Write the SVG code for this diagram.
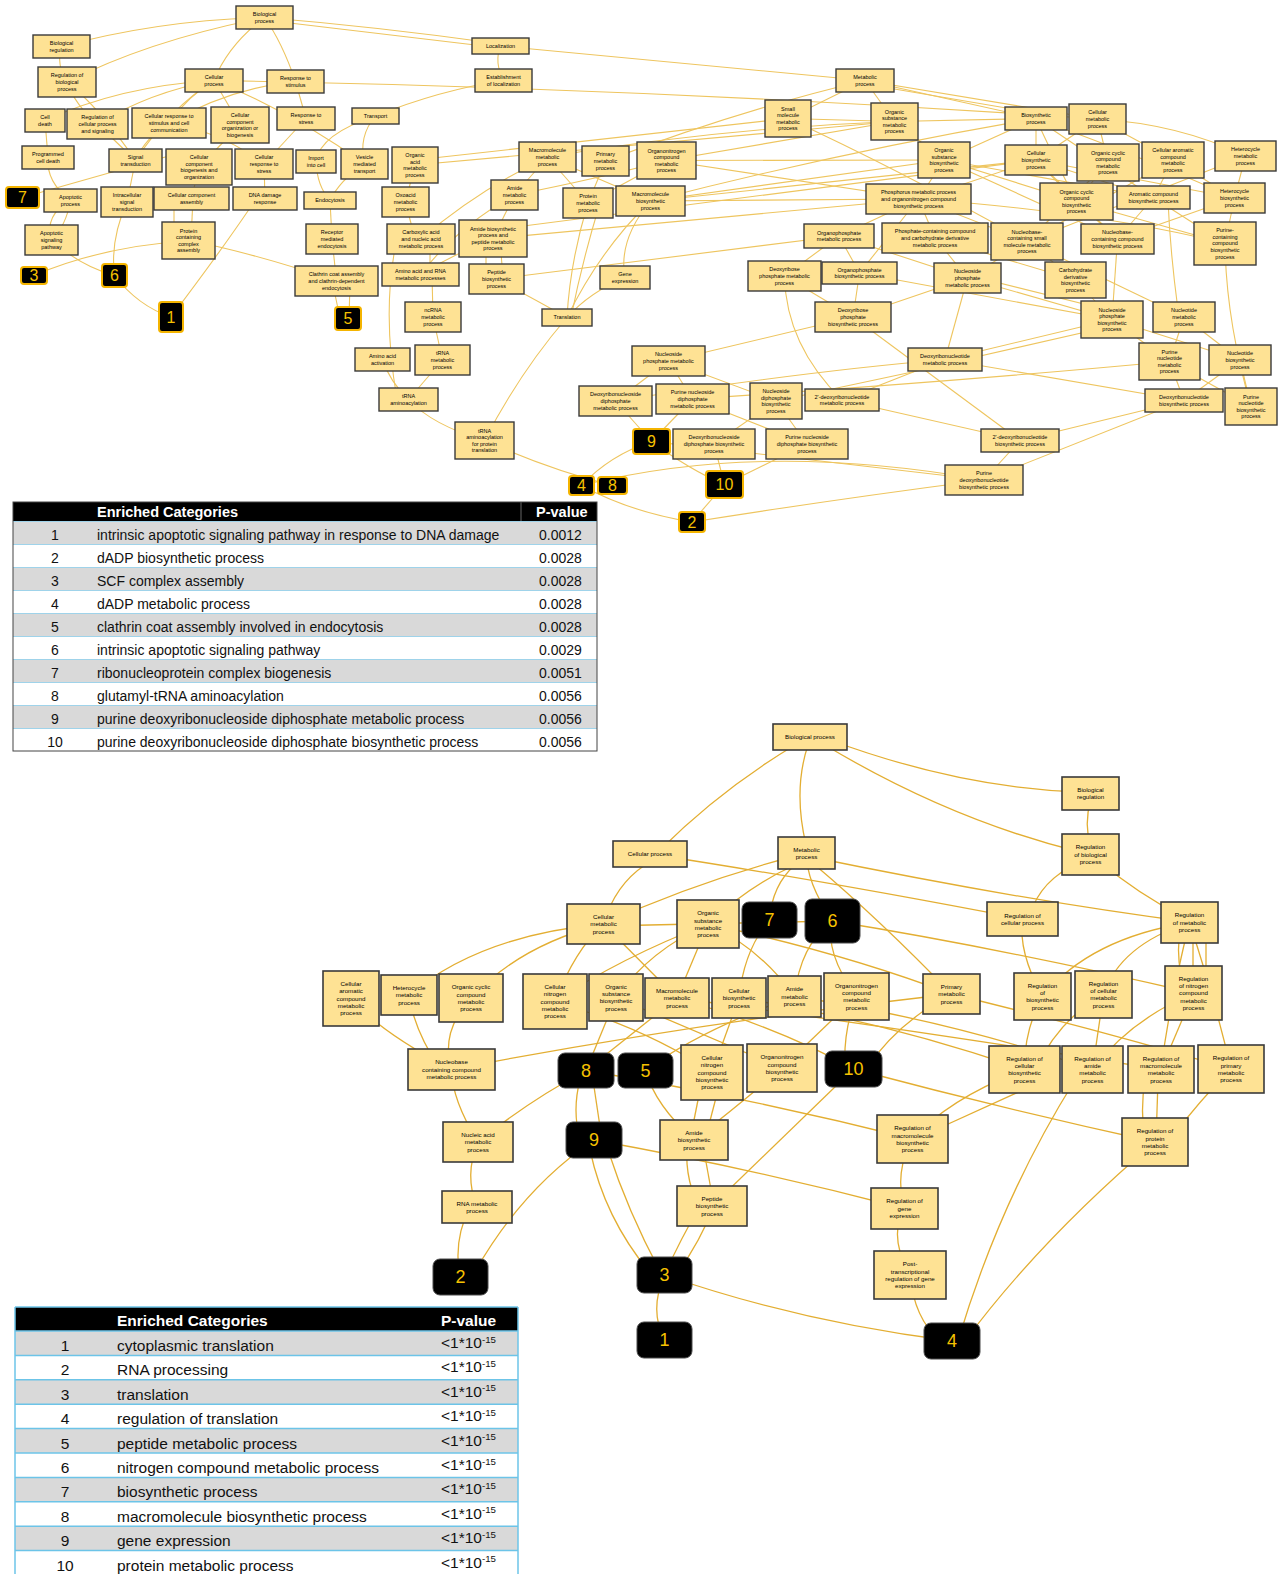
<svg xmlns="http://www.w3.org/2000/svg" width="1282" height="1574" viewBox="0 0 1282 1574">
<style>
.tn{fill:#fee294;stroke:#3a3a3a;stroke-width:1.4}
.bn{fill:#fee294;stroke:#3a3a3a;stroke-width:1.6}
.tt{font-family:"Liberation Sans",Arial,sans-serif;font-size:5.5px;fill:#000;text-anchor:middle}
.bt{font-family:"Liberation Sans",Arial,sans-serif;font-size:6.2px;fill:#000;text-anchor:middle}
.tb{fill:#000;stroke:#f4b400;stroke-width:2}
.bb{fill:#000;stroke:#4a4a4a;stroke-width:1}
.tbt{font-family:"Liberation Sans",Arial,sans-serif;font-size:16px;fill:#f6c200;text-anchor:middle}
.bbt{font-family:"Liberation Sans",Arial,sans-serif;font-size:18px;fill:#f6c200;text-anchor:middle}
.te{fill:none;stroke:#eec55f;stroke-width:1.1}
.be{fill:none;stroke:#e3ae32;stroke-width:1.3}
.tx{font-family:"Liberation Sans",Arial,sans-serif;fill:#111}
.th{font-family:"Liberation Sans",Arial,sans-serif;fill:#fff;font-weight:bold}
.sep1{stroke:#9fd3ea;stroke-width:1}
.sep2{stroke:#6cc4e8;stroke-width:1.5}
</style>
<rect width="1282" height="1574" fill="#fff"/>

<g id="top-connectors">
<path class="te" d="M264.5,17.5 Q160,20 61.5,46.5"/>
<path class="te" d="M264.5,17.5 Q150,40 67,82"/>
<path class="te" d="M61.5,46.5 Q56,65 67,82"/>
<path class="te" d="M264.5,17.5 Q228,45 214,80.5"/>
<path class="te" d="M264.5,17.5 Q282,42 295.5,81.5"/>
<path class="te" d="M264.5,17.5 Q380,27 500.5,44"/>
<path class="te" d="M264.5,20 Q385,34 500.5,48"/>
<path class="te" d="M500.5,46 L865,80.5"/>
<path class="te" d="M500.5,46 Q494,62 503.5,80.5"/>
<path class="te" d="M503.5,80.5 Q440,90 375.5,116"/>
<path class="te" d="M214,80.5 Q650,88 1097.5,119"/>
<path class="te" d="M67,82 Q75,105 97.5,124"/>
<path class="te" d="M67,82 Q100,108 135.5,160.5"/>
<path class="te" d="M214,80.5 Q150,92 97.5,124"/>
<path class="te" d="M214,80.5 Q120,86 45,120.5"/>
<path class="te" d="M214,80.5 Q188,96 169,123"/>
<path class="te" d="M214,80.5 L240,125"/>
<path class="te" d="M214,80.5 Q170,108 135.5,160.5"/>
<path class="te" d="M295.5,81.5 Q230,88 169,123"/>
<path class="te" d="M295.5,81.5 L306,118.5"/>
<path class="te" d="M214,80.5 Q292,112 364.5,164"/>
<path class="te" d="M97.5,124 L135.5,160.5"/>
<path class="te" d="M169,123 Q145,138 135.5,160.5"/>
<path class="te" d="M240,125 L199,167"/>
<path class="te" d="M169,123 Q222,132 264,164"/>
<path class="te" d="M306,118.5 L264,164"/>
<path class="te" d="M45,120.5 L48,157.5"/>
<path class="te" d="M48,157.5 Q46,182 70.5,200.5"/>
<path class="te" d="M135.5,160.5 L127,202"/>
<path class="te" d="M70.5,200.5 Q44,215 51.5,240"/>
<path class="te" d="M70.5,200.5 Q66,226 51.5,240"/>
<path class="te" d="M199,167 L191.5,198.5"/>
<path class="te" d="M264,164 L265,198.5"/>
<path class="te" d="M174,198 L174,240"/>
<path class="te" d="M193,198 L191,240"/>
<path class="te" d="M375.5,116 Q358,136 364.5,164"/>
<path class="te" d="M375.5,116 Q320,134 316,161.5"/>
<path class="te" d="M316,161.5 Q317,186 330,200.5"/>
<path class="te" d="M364.5,164 Q340,180 330,200.5"/>
<path class="te" d="M330,200.5 L332,239"/>
<path class="te" d="M332,239 L336.5,281"/>
<path class="te" d="M188.5,240.5 Q250,252 336.5,281"/>
<path class="te" d="M333,285 L340,318"/>
<path class="te" d="M350,285 L349,318"/>
<path class="te" d="M250,208 Q218,255 171,317"/>
<path class="te" d="M51.5,240 Q80,266 114.5,275.5"/>
<path class="te" d="M127,202 Q110,240 114.5,275.5"/>
<path class="te" d="M114.5,275.5 Q138,306 171,317"/>
<path class="te" d="M188.5,240.5 Q100,247 34,275.5"/>
<path class="te" d="M190,150 L22.5,197.5"/>
<path class="te" d="M415,165 L405.5,202"/>
<path class="te" d="M405.5,202 L415,239"/>
<path class="te" d="M430,239 L430,274.5"/>
<path class="te" d="M432,274.5 L433,317"/>
<path class="te" d="M433,317 L442.5,360"/>
<path class="te" d="M442.5,360 L408.5,399.5"/>
<path class="te" d="M382.5,359.5 Q390,382 408.5,399.5"/>
<path class="te" d="M394,254 Q383,320 397,399"/>
<path class="te" d="M408.5,399.5 Q432,425 484.5,440.5"/>
<path class="te" d="M567,317.5 Q520,372 484.5,440.5"/>
<path class="te" d="M484.5,440.5 Q550,470 612.5,485.5"/>
<path class="te" d="M496.5,279 Q532,298 567,317.5"/>
<path class="te" d="M625,277.5 Q590,292 567,317.5"/>
<path class="te" d="M588,203 Q570,262 567,317.5"/>
<path class="te" d="M600,203 Q582,262 571,317.5"/>
<path class="te" d="M650.5,201 Q600,250 567,317.5"/>
<path class="te" d="M650.5,201 Q618,240 625,277.5"/>
<path class="te" d="M486,238.5 L486,279"/>
<path class="te" d="M500,238.5 L503,279"/>
<path class="te" d="M514.5,195 L493,238.5"/>
<path class="te" d="M547.5,157 L514.5,195"/>
<path class="te" d="M547.5,157 L588,203"/>
<path class="te" d="M605.5,161 L588,203"/>
<path class="te" d="M666.5,160.5 L588,203"/>
<path class="te" d="M666.5,160.5 Q600,178 514.5,195"/>
<path class="te" d="M547.5,157 L650.5,201"/>
<path class="te" d="M421,239 Q478,190 547.5,157"/>
<path class="te" d="M420.5,274.5 Q458,226 514.5,195"/>
<path class="te" d="M420.5,274.5 Q452,255 493,238.5"/>
<path class="te" d="M496.5,279 L839,236"/>
<path class="te" d="M415,160 L788,118.5"/>
<path class="te" d="M415,165 L894.5,121.5"/>
<path class="te" d="M865,80.5 L788,118.5"/>
<path class="te" d="M865,80.5 L894.5,121.5"/>
<path class="te" d="M865,80.5 L1036,118.5"/>
<path class="te" d="M865,80.5 L1097.5,119"/>
<path class="te" d="M865,84 L1036,113"/>
<path class="te" d="M865,80.5 Q740,110 605.5,161"/>
<path class="te" d="M894.5,121.5 Q720,128 547.5,157"/>
<path class="te" d="M894.5,121.5 L666.5,160.5"/>
<path class="te" d="M894.5,121.5 L944,160"/>
<path class="te" d="M894.5,121.5 L1036,118.5"/>
<path class="te" d="M788,118.5 Q900,170 1027,241.5"/>
<path class="te" d="M788,118.5 L894.5,121.5"/>
<path class="te" d="M666.5,160.5 L944,160"/>
<path class="te" d="M666.5,160.5 L918.5,199"/>
<path class="te" d="M650.5,201 L1036,160"/>
<path class="te" d="M650.5,201 Q850,150 1036,118.5"/>
<path class="te" d="M650.5,201 L944,160"/>
<path class="te" d="M650.5,201 L918.5,199"/>
<path class="te" d="M493,238.5 L918.5,199"/>
<path class="te" d="M493,230 L1036,160"/>
<path class="te" d="M1036,118.5 L1036,160"/>
<path class="te" d="M1036,118.5 L944,160"/>
<path class="te" d="M1036,118.5 Q1050,150 1076.5,201.5"/>
<path class="te" d="M1036,118.5 L1153.5,197.5"/>
<path class="te" d="M1036,118.5 Q1150,160 1234.5,198"/>
<path class="te" d="M1097.5,119 L1036,160"/>
<path class="te" d="M1097.5,119 L1108,162.5"/>
<path class="te" d="M1097.5,119 L1173,160"/>
<path class="te" d="M1097.5,119 Q1180,124 1245.5,156"/>
<path class="te" d="M944,160 L918.5,199"/>
<path class="te" d="M944,160 L1076.5,201.5"/>
<path class="te" d="M944,160 L1117.5,239"/>
<path class="te" d="M944,160 L1153.5,197.5"/>
<path class="te" d="M1036,160 L1076.5,201.5"/>
<path class="te" d="M1036,160 L1117.5,239"/>
<path class="te" d="M1036,160 L918.5,199"/>
<path class="te" d="M1036,160 L1153.5,197.5"/>
<path class="te" d="M1036,160 L1234.5,198"/>
<path class="te" d="M1108,162.5 L1076.5,201.5"/>
<path class="te" d="M1108,162.5 L1027,241.5"/>
<path class="te" d="M1173,160 L1153.5,197.5"/>
<path class="te" d="M1173,160 L1027,241.5"/>
<path class="te" d="M1173,160 L1234.5,198"/>
<path class="te" d="M1245.5,156 L1234.5,198"/>
<path class="te" d="M1245.5,156 L1027,241.5"/>
<path class="te" d="M1076.5,201.5 L1117.5,239"/>
<path class="te" d="M1076.5,201.5 L1225,243.5"/>
<path class="te" d="M1153.5,197.5 L1117.5,239"/>
<path class="te" d="M1153.5,197.5 L1225,243.5"/>
<path class="te" d="M1234.5,198 L1117.5,239"/>
<path class="te" d="M1234.5,198 L1225,243.5"/>
<path class="te" d="M918.5,199 L839,236"/>
<path class="te" d="M918.5,199 L935,238"/>
<path class="te" d="M918.5,199 L1027,241.5"/>
<path class="te" d="M918.5,199 L859.5,273"/>
<path class="te" d="M918.5,199 Q1100,212 1225,243.5"/>
<path class="te" d="M839,236 L859.5,273"/>
<path class="te" d="M839,236 L784.5,276"/>
<path class="te" d="M839,236 L967.5,278"/>
<path class="te" d="M935,238 L967.5,278"/>
<path class="te" d="M935,238 L1075.5,280"/>
<path class="te" d="M1027,241.5 L967.5,278"/>
<path class="te" d="M1027,241.5 L1075.5,280"/>
<path class="te" d="M1027,241.5 L1184,317"/>
<path class="te" d="M1117.5,239 L1112,319.5"/>
<path class="te" d="M1168,200 Q1170,250 1178,310"/>
<path class="te" d="M1225,243.5 Q1226,320 1251,406.5"/>
<path class="te" d="M967.5,278 L1112,319.5"/>
<path class="te" d="M967.5,275 L1112,311"/>
<path class="te" d="M1075.5,280 L1112,319.5"/>
<path class="te" d="M859.5,273 L1112,319.5"/>
<path class="te" d="M859.5,273 L853,317"/>
<path class="te" d="M784.5,276 L853,317"/>
<path class="te" d="M784.5,276 Q786,345 842,400"/>
<path class="te" d="M853,317 L1020,440.5"/>
<path class="te" d="M853,317 L967.5,278"/>
<path class="te" d="M967.5,278 L945,359.5"/>
<path class="te" d="M1112,319.5 L945,359.5"/>
<path class="te" d="M1112,326 L945,364"/>
<path class="te" d="M1112,319.5 L1169.5,361.5"/>
<path class="te" d="M1112,319.5 L1240,360"/>
<path class="te" d="M1184,317 L1169.5,361.5"/>
<path class="te" d="M1184,317 L1240,360"/>
<path class="te" d="M1169.5,361.5 L1251,406.5"/>
<path class="te" d="M1169.5,361.5 L1184,400.5"/>
<path class="te" d="M1240,360 L1251,406.5"/>
<path class="te" d="M1240,360 L1184,400.5"/>
<path class="te" d="M945,359.5 L1184,400.5"/>
<path class="te" d="M945,359.5 L842,400"/>
<path class="te" d="M945,359.5 Q800,372 615.5,401"/>
<path class="te" d="M945,365 L776,401"/>
<path class="te" d="M842,400 L1020,440.5"/>
<path class="te" d="M1020,440.5 L1184,400.5"/>
<path class="te" d="M1020,440.5 L984,480"/>
<path class="te" d="M1184,400.5 L984,480"/>
<path class="te" d="M1169.5,361.5 Q950,382 692.5,399"/>
<path class="te" d="M668.5,361 L615.5,401"/>
<path class="te" d="M668.5,361 L692.5,399"/>
<path class="te" d="M668.5,361 L776,401"/>
<path class="te" d="M668.5,361 L853,317"/>
<path class="te" d="M615.5,401 L651.5,441.5"/>
<path class="te" d="M692.5,399 L651.5,441.5"/>
<path class="te" d="M776,401 L714,444"/>
<path class="te" d="M776,401 L807,444"/>
<path class="te" d="M692.5,399 L807,444"/>
<path class="te" d="M714,444 L724.5,484.5"/>
<path class="te" d="M807,444 L724.5,484.5"/>
<path class="te" d="M651.5,441.5 Q690,470 724.5,484.5"/>
<path class="te" d="M651.5,441.5 Q610,455 581.5,485.5"/>
<path class="te" d="M581.5,485.5 Q760,440 984,480"/>
<path class="te" d="M581.5,485.5 Q630,512 692,522"/>
<path class="te" d="M724.5,484.5 L692,522"/>
<path class="te" d="M692,522 Q830,500 984,480"/>
<path class="te" d="M651.5,441.5 L984,480"/>
</g>

<g id="top-nodes">
<g id="t_bp"><rect class="tn" x="236" y="6" width="57" height="23"/><text class="tt" x="264.5" y="16.1">Biological<tspan x="264.5" dy="6.6">process</tspan></text></g>
<g id="t_breg"><rect class="tn" x="33" y="35" width="57" height="23"/><text class="tt" x="61.5" y="45.1">Biological<tspan x="61.5" dy="6.6">regulation</tspan></text></g>
<g id="t_rbp"><rect class="tn" x="38" y="67" width="58" height="30"/><text class="tt" x="67" y="77.3">Regulation of<tspan x="67" dy="6.6">biological</tspan><tspan x="67" dy="6.6">process</tspan></text></g>
<g id="t_cp"><rect class="tn" x="185" y="69" width="58" height="23"/><text class="tt" x="214" y="79.1">Cellular<tspan x="214" dy="6.6">process</tspan></text></g>
<g id="t_rs"><rect class="tn" x="267" y="70" width="57" height="23"/><text class="tt" x="295.5" y="80.1">Response to<tspan x="295.5" dy="6.6">stimulus</tspan></text></g>
<g id="t_loc"><rect class="tn" x="472" y="38" width="57" height="16"/><text class="tt" x="500.5" y="47.9">Localization</text></g>
<g id="t_eol"><rect class="tn" x="475" y="69" width="57" height="23"/><text class="tt" x="503.5" y="79.1">Establishment<tspan x="503.5" dy="6.6">of localization</tspan></text></g>
<g id="t_mp"><rect class="tn" x="836" y="69" width="58" height="23"/><text class="tt" x="865" y="79.1">Metabolic<tspan x="865" dy="6.6">process</tspan></text></g>
<g id="t_cd"><rect class="tn" x="25" y="109" width="40" height="23"/><text class="tt" x="45" y="119.1">Cell<tspan x="45" dy="6.6">death</tspan></text></g>
<g id="t_rcps"><rect class="tn" x="67" y="109" width="61" height="30"/><text class="tt" x="97.5" y="119.3">Regulation of<tspan x="97.5" dy="6.6">cellular process</tspan><tspan x="97.5" dy="6.6">and signaling</tspan></text></g>
<g id="t_crsc"><rect class="tn" x="132" y="108" width="74" height="30"/><text class="tt" x="169" y="118.3">Cellular response to<tspan x="169" dy="6.6">stimulus and cell</tspan><tspan x="169" dy="6.6">communication</tspan></text></g>
<g id="t_ccob"><rect class="tn" x="211" y="107" width="58" height="36"/><text class="tt" x="240" y="117">Cellular<tspan x="240" dy="6.6">component</tspan><tspan x="240" dy="6.6">organization or</tspan><tspan x="240" dy="6.6">biogenesis</tspan></text></g>
<g id="t_rstress"><rect class="tn" x="277" y="107" width="58" height="23"/><text class="tt" x="306" y="117.1">Response to<tspan x="306" dy="6.6">stress</tspan></text></g>
<g id="t_transport"><rect class="tn" x="352" y="108" width="47" height="16"/><text class="tt" x="375.5" y="117.9">Transport</text></g>
<g id="t_smm"><rect class="tn" x="765" y="100" width="46" height="37"/><text class="tt" x="788" y="110.5">Small<tspan x="788" dy="6.6">molecule</tspan><tspan x="788" dy="6.6">metabolic</tspan><tspan x="788" dy="6.6">process</tspan></text></g>
<g id="t_osm"><rect class="tn" x="871" y="103" width="47" height="37"/><text class="tt" x="894.5" y="113.5">Organic<tspan x="894.5" dy="6.6">substance</tspan><tspan x="894.5" dy="6.6">metabolic</tspan><tspan x="894.5" dy="6.6">process</tspan></text></g>
<g id="t_bsp"><rect class="tn" x="1005" y="107" width="62" height="23"/><text class="tt" x="1036" y="117.1">Biosynthetic<tspan x="1036" dy="6.6">process</tspan></text></g>
<g id="t_cmp"><rect class="tn" x="1069" y="104" width="57" height="30"/><text class="tt" x="1097.5" y="114.3">Cellular<tspan x="1097.5" dy="6.6">metabolic</tspan><tspan x="1097.5" dy="6.6">process</tspan></text></g>
<g id="t_pcd"><rect class="tn" x="22" y="146" width="52" height="23"/><text class="tt" x="48" y="156.1">Programmed<tspan x="48" dy="6.6">cell death</tspan></text></g>
<g id="t_st"><rect class="tn" x="109" y="149" width="53" height="23"/><text class="tt" x="135.5" y="159.1">Signal<tspan x="135.5" dy="6.6">transduction</tspan></text></g>
<g id="t_ccbo"><rect class="tn" x="166" y="149" width="66" height="36"/><text class="tt" x="199" y="159">Cellular<tspan x="199" dy="6.6">component</tspan><tspan x="199" dy="6.6">biogenesis and</tspan><tspan x="199" dy="6.6">organization</tspan></text></g>
<g id="t_crstress"><rect class="tn" x="235" y="149" width="58" height="30"/><text class="tt" x="264" y="159.3">Cellular<tspan x="264" dy="6.6">response to</tspan><tspan x="264" dy="6.6">stress</tspan></text></g>
<g id="t_iic"><rect class="tn" x="296" y="150" width="40" height="23"/><text class="tt" x="316" y="160.1">Import<tspan x="316" dy="6.6">into cell</tspan></text></g>
<g id="t_vmt"><rect class="tn" x="341" y="149" width="47" height="30"/><text class="tt" x="364.5" y="159.3">Vesicle<tspan x="364.5" dy="6.6">mediated</tspan><tspan x="364.5" dy="6.6">transport</tspan></text></g>
<g id="t_oamp"><rect class="tn" x="392" y="147" width="46" height="36"/><text class="tt" x="415" y="157">Organic<tspan x="415" dy="6.6">acid</tspan><tspan x="415" dy="6.6">metabolic</tspan><tspan x="415" dy="6.6">process</tspan></text></g>
<g id="t_mmp"><rect class="tn" x="519" y="142" width="57" height="30"/><text class="tt" x="547.5" y="152.3">Macromolecule<tspan x="547.5" dy="6.6">metabolic</tspan><tspan x="547.5" dy="6.6">process</tspan></text></g>
<g id="t_pmp"><rect class="tn" x="582" y="146" width="47" height="30"/><text class="tt" x="605.5" y="156.3">Primary<tspan x="605.5" dy="6.6">metabolic</tspan><tspan x="605.5" dy="6.6">process</tspan></text></g>
<g id="t_oncm"><rect class="tn" x="637" y="142" width="59" height="37"/><text class="tt" x="666.5" y="152.5">Organonitrogen<tspan x="666.5" dy="6.6">compound</tspan><tspan x="666.5" dy="6.6">metabolic</tspan><tspan x="666.5" dy="6.6">process</tspan></text></g>
<g id="t_osb"><rect class="tn" x="918" y="142" width="52" height="36"/><text class="tt" x="944" y="152">Organic<tspan x="944" dy="6.6">substance</tspan><tspan x="944" dy="6.6">biosynthetic</tspan><tspan x="944" dy="6.6">process</tspan></text></g>
<g id="t_cbp"><rect class="tn" x="1005" y="145" width="62" height="30"/><text class="tt" x="1036" y="155.3">Cellular<tspan x="1036" dy="6.6">biosynthetic</tspan><tspan x="1036" dy="6.6">process</tspan></text></g>
<g id="t_occm"><rect class="tn" x="1077" y="144" width="62" height="37"/><text class="tt" x="1108" y="154.5">Organic cyclic<tspan x="1108" dy="6.6">compound</tspan><tspan x="1108" dy="6.6">metabolic</tspan><tspan x="1108" dy="6.6">process</tspan></text></g>
<g id="t_cacm"><rect class="tn" x="1142" y="142" width="62" height="36"/><text class="tt" x="1173" y="152">Cellular aromatic<tspan x="1173" dy="6.6">compound</tspan><tspan x="1173" dy="6.6">metabolic</tspan><tspan x="1173" dy="6.6">process</tspan></text></g>
<g id="t_hmp"><rect class="tn" x="1215" y="141" width="61" height="30"/><text class="tt" x="1245.5" y="151.3">Heterocycle<tspan x="1245.5" dy="6.6">metabolic</tspan><tspan x="1245.5" dy="6.6">process</tspan></text></g>
<g id="t_ap"><rect class="tn" x="44" y="189" width="53" height="23"/><text class="tt" x="70.5" y="199.1">Apoptotic<tspan x="70.5" dy="6.6">process</tspan></text></g>
<g id="t_ist"><rect class="tn" x="101" y="187" width="52" height="30"/><text class="tt" x="127" y="197.3">Intracellular<tspan x="127" dy="6.6">signal</tspan><tspan x="127" dy="6.6">transduction</tspan></text></g>
<g id="t_cca"><rect class="tn" x="154" y="187" width="75" height="23"/><text class="tt" x="191.5" y="197.1">Cellular component<tspan x="191.5" dy="6.6">assembly</tspan></text></g>
<g id="t_ddr"><rect class="tn" x="233" y="187" width="64" height="23"/><text class="tt" x="265" y="197.1">DNA damage<tspan x="265" dy="6.6">response</tspan></text></g>
<g id="t_endo"><rect class="tn" x="304" y="192" width="52" height="17"/><text class="tt" x="330" y="202.4">Endocytosis</text></g>
<g id="t_oxo"><rect class="tn" x="382" y="187" width="47" height="30"/><text class="tt" x="405.5" y="197.3">Oxoacid<tspan x="405.5" dy="6.6">metabolic</tspan><tspan x="405.5" dy="6.6">process</tspan></text></g>
<g id="t_amp"><rect class="tn" x="491" y="180" width="47" height="30"/><text class="tt" x="514.5" y="190.3">Amide<tspan x="514.5" dy="6.6">metabolic</tspan><tspan x="514.5" dy="6.6">process</tspan></text></g>
<g id="t_protmp"><rect class="tn" x="563" y="188" width="50" height="30"/><text class="tt" x="588" y="198.3">Protein<tspan x="588" dy="6.6">metabolic</tspan><tspan x="588" dy="6.6">process</tspan></text></g>
<g id="t_mbp"><rect class="tn" x="616" y="186" width="69" height="30"/><text class="tt" x="650.5" y="196.3">Macromolecule<tspan x="650.5" dy="6.6">biosynthetic</tspan><tspan x="650.5" dy="6.6">process</tspan></text></g>
<g id="t_phos"><rect class="tn" x="866" y="184" width="105" height="30"/><text class="tt" x="918.5" y="194.3">Phosphorus metabolic process<tspan x="918.5" dy="6.6">and organonitrogen compound</tspan><tspan x="918.5" dy="6.6">biosynthetic process</tspan></text></g>
<g id="t_occb"><rect class="tn" x="1040" y="183" width="73" height="37"/><text class="tt" x="1076.5" y="193.5">Organic cyclic<tspan x="1076.5" dy="6.6">compound</tspan><tspan x="1076.5" dy="6.6">biosynthetic</tspan><tspan x="1076.5" dy="6.6">process</tspan></text></g>
<g id="t_acb"><rect class="tn" x="1117" y="186" width="73" height="23"/><text class="tt" x="1153.5" y="196.1">Aromatic compound<tspan x="1153.5" dy="6.6">biosynthetic process</tspan></text></g>
<g id="t_hbp"><rect class="tn" x="1204" y="183" width="61" height="30"/><text class="tt" x="1234.5" y="193.3">Heterocycle<tspan x="1234.5" dy="6.6">biosynthetic</tspan><tspan x="1234.5" dy="6.6">process</tspan></text></g>
<g id="t_asp"><rect class="tn" x="25" y="225" width="53" height="30"/><text class="tt" x="51.5" y="235.3">Apoptotic<tspan x="51.5" dy="6.6">signaling</tspan><tspan x="51.5" dy="6.6">pathway</tspan></text></g>
<g id="t_pcca"><rect class="tn" x="162" y="222" width="53" height="37"/><text class="tt" x="188.5" y="232.5">Protein<tspan x="188.5" dy="6.6">containing</tspan><tspan x="188.5" dy="6.6">complex</tspan><tspan x="188.5" dy="6.6">assembly</tspan></text></g>
<g id="t_rme"><rect class="tn" x="306" y="224" width="52" height="30"/><text class="tt" x="332" y="234.3">Receptor<tspan x="332" dy="6.6">mediated</tspan><tspan x="332" dy="6.6">endocytosis</tspan></text></g>
<g id="t_carb"><rect class="tn" x="387" y="224" width="68" height="30"/><text class="tt" x="421" y="234.3">Carboxylic acid<tspan x="421" dy="6.6">and nucleic acid</tspan><tspan x="421" dy="6.6">metabolic process</tspan></text></g>
<g id="t_abp"><rect class="tn" x="459" y="220" width="68" height="37"/><text class="tt" x="493" y="230.5">Amide biosynthetic<tspan x="493" dy="6.6">process and</tspan><tspan x="493" dy="6.6">peptide metabolic</tspan><tspan x="493" dy="6.6">process</tspan></text></g>
<g id="t_opm"><rect class="tn" x="804" y="224" width="70" height="24"/><text class="tt" x="839" y="234.6">Organophosphate<tspan x="839" dy="6.6">metabolic process</tspan></text></g>
<g id="t_pcc"><rect class="tn" x="882" y="223" width="106" height="30"/><text class="tt" x="935" y="233.3">Phosphate-containing compound<tspan x="935" dy="6.6">and carbohydrate derivative</tspan><tspan x="935" dy="6.6">metabolic process</tspan></text></g>
<g id="t_nbsm"><rect class="tn" x="991" y="223" width="72" height="37"/><text class="tt" x="1027" y="233.5">Nucleobase-<tspan x="1027" dy="6.6">containing small</tspan><tspan x="1027" dy="6.6">molecule metabolic</tspan><tspan x="1027" dy="6.6">process</tspan></text></g>
<g id="t_nbcb"><rect class="tn" x="1081" y="224" width="73" height="30"/><text class="tt" x="1117.5" y="234.3">Nucleobase-<tspan x="1117.5" dy="6.6">containing compound</tspan><tspan x="1117.5" dy="6.6">biosynthetic process</tspan></text></g>
<g id="t_pccb"><rect class="tn" x="1194" y="222" width="62" height="43"/><text class="tt" x="1225" y="232.2">Purine-<tspan x="1225" dy="6.6">containing</tspan><tspan x="1225" dy="6.6">compound</tspan><tspan x="1225" dy="6.6">biosynthetic</tspan><tspan x="1225" dy="6.6">process</tspan></text></g>
<g id="t_clath"><rect class="tn" x="295" y="266" width="83" height="30"/><text class="tt" x="336.5" y="276.3">Clathrin coat assembly<tspan x="336.5" dy="6.6">and clathrin-dependent</tspan><tspan x="336.5" dy="6.6">endocytosis</tspan></text></g>
<g id="t_aarna"><rect class="tn" x="382" y="263" width="77" height="23"/><text class="tt" x="420.5" y="273.1">Amino acid and RNA<tspan x="420.5" dy="6.6">metabolic processes</tspan></text></g>
<g id="t_pbp"><rect class="tn" x="469" y="264" width="55" height="30"/><text class="tt" x="496.5" y="274.3">Peptide<tspan x="496.5" dy="6.6">biosynthetic</tspan><tspan x="496.5" dy="6.6">process</tspan></text></g>
<g id="t_ge"><rect class="tn" x="600" y="266" width="50" height="23"/><text class="tt" x="625" y="276.1">Gene<tspan x="625" dy="6.6">expression</tspan></text></g>
<g id="t_dpm"><rect class="tn" x="748" y="261" width="73" height="30"/><text class="tt" x="784.5" y="271.3">Deoxyribose<tspan x="784.5" dy="6.6">phosphate metabolic</tspan><tspan x="784.5" dy="6.6">process</tspan></text></g>
<g id="t_opb"><rect class="tn" x="822" y="262" width="75" height="22"/><text class="tt" x="859.5" y="271.6">Organophosphate<tspan x="859.5" dy="6.6">biosynthetic process</tspan></text></g>
<g id="t_npm2"><rect class="tn" x="934" y="263" width="67" height="30"/><text class="tt" x="967.5" y="273.3">Nucleoside<tspan x="967.5" dy="6.6">phosphate</tspan><tspan x="967.5" dy="6.6">metabolic process</tspan></text></g>
<g id="t_cdb"><rect class="tn" x="1045" y="262" width="61" height="36"/><text class="tt" x="1075.5" y="272">Carbohydrate<tspan x="1075.5" dy="6.6">derivative</tspan><tspan x="1075.5" dy="6.6">biosynthetic</tspan><tspan x="1075.5" dy="6.6">process</tspan></text></g>
<g id="t_ncrna"><rect class="tn" x="405" y="302" width="56" height="30"/><text class="tt" x="433" y="312.3">ncRNA<tspan x="433" dy="6.6">metabolic</tspan><tspan x="433" dy="6.6">process</tspan></text></g>
<g id="t_trans"><rect class="tn" x="542" y="309" width="50" height="17"/><text class="tt" x="567" y="319.4">Translation</text></g>
<g id="t_dpb"><rect class="tn" x="815" y="302" width="76" height="30"/><text class="tt" x="853" y="312.3">Deoxyribose<tspan x="853" dy="6.6">phosphate</tspan><tspan x="853" dy="6.6">biosynthetic process</tspan></text></g>
<g id="t_npb"><rect class="tn" x="1081" y="301" width="62" height="37"/><text class="tt" x="1112" y="311.5">Nucleoside<tspan x="1112" dy="6.6">phosphate</tspan><tspan x="1112" dy="6.6">biosynthetic</tspan><tspan x="1112" dy="6.6">process</tspan></text></g>
<g id="t_nmp"><rect class="tn" x="1153" y="302" width="62" height="30"/><text class="tt" x="1184" y="312.3">Nucleotide<tspan x="1184" dy="6.6">metabolic</tspan><tspan x="1184" dy="6.6">process</tspan></text></g>
<g id="t_aaa"><rect class="tn" x="355" y="348" width="55" height="23"/><text class="tt" x="382.5" y="358.1">Amino acid<tspan x="382.5" dy="6.6">activation</tspan></text></g>
<g id="t_trnamp"><rect class="tn" x="415" y="345" width="55" height="30"/><text class="tt" x="442.5" y="355.3">tRNA<tspan x="442.5" dy="6.6">metabolic</tspan><tspan x="442.5" dy="6.6">process</tspan></text></g>
<g id="t_npm"><rect class="tn" x="632" y="346" width="73" height="30"/><text class="tt" x="668.5" y="356.3">Nucleoside<tspan x="668.5" dy="6.6">phosphate metabolic</tspan><tspan x="668.5" dy="6.6">process</tspan></text></g>
<g id="t_drnm"><rect class="tn" x="908" y="348" width="74" height="23"/><text class="tt" x="945" y="358.1">Deoxyribonucleotide<tspan x="945" dy="6.6">metabolic process</tspan></text></g>
<g id="t_pnm"><rect class="tn" x="1139" y="343" width="61" height="37"/><text class="tt" x="1169.5" y="353.5">Purine<tspan x="1169.5" dy="6.6">nucleotide</tspan><tspan x="1169.5" dy="6.6">metabolic</tspan><tspan x="1169.5" dy="6.6">process</tspan></text></g>
<g id="t_nbp"><rect class="tn" x="1209" y="345" width="62" height="30"/><text class="tt" x="1240" y="355.3">Nucleotide<tspan x="1240" dy="6.6">biosynthetic</tspan><tspan x="1240" dy="6.6">process</tspan></text></g>
<g id="t_trnaa"><rect class="tn" x="379" y="388" width="59" height="23"/><text class="tt" x="408.5" y="398.1">tRNA<tspan x="408.5" dy="6.6">aminoacylation</tspan></text></g>
<g id="t_dndm"><rect class="tn" x="579" y="386" width="73" height="30"/><text class="tt" x="615.5" y="396.3">Deoxyribonucleoside<tspan x="615.5" dy="6.6">diphosphate</tspan><tspan x="615.5" dy="6.6">metabolic process</tspan></text></g>
<g id="t_pndm"><rect class="tn" x="656" y="384" width="73" height="30"/><text class="tt" x="692.5" y="394.3">Purine nucleoside<tspan x="692.5" dy="6.6">diphosphate</tspan><tspan x="692.5" dy="6.6">metabolic process</tspan></text></g>
<g id="t_ndb"><rect class="tn" x="750" y="383" width="52" height="36"/><text class="tt" x="776" y="393">Nucleoside<tspan x="776" dy="6.6">diphosphate</tspan><tspan x="776" dy="6.6">biosynthetic</tspan><tspan x="776" dy="6.6">process</tspan></text></g>
<g id="t_2dm"><rect class="tn" x="805" y="389" width="74" height="22"/><text class="tt" x="842" y="398.6">2'-deoxyribonucleotide<tspan x="842" dy="6.6">metabolic process</tspan></text></g>
<g id="t_drnb"><rect class="tn" x="1145" y="389" width="78" height="23"/><text class="tt" x="1184" y="399.1">Deoxyribonucleotide<tspan x="1184" dy="6.6">biosynthetic process</tspan></text></g>
<g id="t_pnb"><rect class="tn" x="1225" y="388" width="52" height="37"/><text class="tt" x="1251" y="398.5">Purine<tspan x="1251" dy="6.6">nucleotide</tspan><tspan x="1251" dy="6.6">biosynthetic</tspan><tspan x="1251" dy="6.6">process</tspan></text></g>
<g id="t_tapt"><rect class="tn" x="455" y="422" width="59" height="37"/><text class="tt" x="484.5" y="432.5">tRNA<tspan x="484.5" dy="6.6">aminoacylation</tspan><tspan x="484.5" dy="6.6">for protein</tspan><tspan x="484.5" dy="6.6">translation</tspan></text></g>
<g id="t_dndb"><rect class="tn" x="673" y="429" width="82" height="30"/><text class="tt" x="714" y="439.3">Deoxyribonucleoside<tspan x="714" dy="6.6">diphosphate biosynthetic</tspan><tspan x="714" dy="6.6">process</tspan></text></g>
<g id="t_pndb"><rect class="tn" x="766" y="429" width="82" height="30"/><text class="tt" x="807" y="439.3">Purine nucleoside<tspan x="807" dy="6.6">diphosphate biosynthetic</tspan><tspan x="807" dy="6.6">process</tspan></text></g>
<g id="t_2db"><rect class="tn" x="981" y="429" width="78" height="23"/><text class="tt" x="1020" y="439.1">2'-deoxyribonucleotide<tspan x="1020" dy="6.6">biosynthetic process</tspan></text></g>
<g id="t_pdb"><rect class="tn" x="945" y="465" width="78" height="30"/><text class="tt" x="984" y="475.3">Purine<tspan x="984" dy="6.6">deoxyribonucleotide</tspan><tspan x="984" dy="6.6">biosynthetic process</tspan></text></g>
<g id="t_b7"><rect class="tb" x="6" y="187" width="33" height="21" rx="3"/><text class="tbt" x="22.5" y="203.1">7</text></g>
<g id="t_b3"><rect class="tb" x="21" y="267" width="26" height="17" rx="3"/><text class="tbt" x="34" y="281.1">3</text></g>
<g id="t_b6"><rect class="tb" x="102" y="264" width="25" height="23" rx="3"/><text class="tbt" x="114.5" y="281.1">6</text></g>
<g id="t_b1"><rect class="tb" x="159" y="302" width="24" height="30" rx="3"/><text class="tbt" x="171" y="322.6">1</text></g>
<g id="t_b5"><rect class="tb" x="335" y="307" width="26" height="23" rx="3"/><text class="tbt" x="348" y="324.1">5</text></g>
<g id="t_b9"><rect class="tb" x="633" y="429" width="37" height="25" rx="3"/><text class="tbt" x="651.5" y="447.1">9</text></g>
<g id="t_b4"><rect class="tb" x="569" y="476" width="25" height="19" rx="3"/><text class="tbt" x="581.5" y="491.1">4</text></g>
<g id="t_b8"><rect class="tb" x="598" y="477" width="29" height="17" rx="3"/><text class="tbt" x="612.5" y="491.1">8</text></g>
<g id="t_b10"><rect class="tb" x="706" y="471" width="37" height="27" rx="3"/><text class="tbt" x="724.5" y="490.1">10</text></g>
<g id="t_b2"><rect class="tb" x="679" y="512" width="26" height="20" rx="3"/><text class="tbt" x="692" y="527.6">2</text></g>
</g>

<g id="table1">
<rect x="13" y="502" width="584" height="249" fill="#fff"/>
<rect x="13" y="521.5" width="584" height="23" fill="#d9d9d9"/>
<rect x="13" y="567.5" width="584" height="23" fill="#d9d9d9"/>
<rect x="13" y="613.5" width="584" height="23" fill="#d9d9d9"/>
<rect x="13" y="659.5" width="584" height="23" fill="#d9d9d9"/>
<rect x="13" y="705.5" width="584" height="23" fill="#d9d9d9"/>
<rect x="13" y="502" width="584" height="19.5" fill="#000"/>
<line x1="521" y1="502" x2="521" y2="521.5" stroke="#666"/>
<g class="sep1">
<line x1="13" y1="521.5" x2="597" y2="521.5"/><line x1="13" y1="544.5" x2="597" y2="544.5"/><line x1="13" y1="567.5" x2="597" y2="567.5"/><line x1="13" y1="590.5" x2="597" y2="590.5"/><line x1="13" y1="613.5" x2="597" y2="613.5"/><line x1="13" y1="636.5" x2="597" y2="636.5"/><line x1="13" y1="659.5" x2="597" y2="659.5"/><line x1="13" y1="682.5" x2="597" y2="682.5"/><line x1="13" y1="705.5" x2="597" y2="705.5"/><line x1="13" y1="728.5" x2="597" y2="728.5"/>
</g>
<rect x="13" y="502" width="584" height="249" fill="none" stroke="#444" stroke-width="1"/>
<text class="th" x="97" y="517" font-size="14.5">Enriched Categories</text>
<text class="th" x="536" y="517" font-size="14.5">P-value</text>
<g class="tx" font-size="14">
<text x="55" y="540" text-anchor="middle">1</text><text x="97" y="540">intrinsic apoptotic signaling pathway in response to DNA damage</text><text x="539" y="540">0.0012</text>
<text x="55" y="563" text-anchor="middle">2</text><text x="97" y="563">dADP biosynthetic process</text><text x="539" y="563">0.0028</text>
<text x="55" y="586" text-anchor="middle">3</text><text x="97" y="586">SCF complex assembly</text><text x="539" y="586">0.0028</text>
<text x="55" y="609" text-anchor="middle">4</text><text x="97" y="609">dADP metabolic process</text><text x="539" y="609">0.0028</text>
<text x="55" y="632" text-anchor="middle">5</text><text x="97" y="632">clathrin coat assembly involved in endocytosis</text><text x="539" y="632">0.0028</text>
<text x="55" y="655" text-anchor="middle">6</text><text x="97" y="655">intrinsic apoptotic signaling pathway</text><text x="539" y="655">0.0029</text>
<text x="55" y="678" text-anchor="middle">7</text><text x="97" y="678">ribonucleoprotein complex biogenesis</text><text x="539" y="678">0.0051</text>
<text x="55" y="701" text-anchor="middle">8</text><text x="97" y="701">glutamyl-tRNA aminoacylation</text><text x="539" y="701">0.0056</text>
<text x="55" y="724" text-anchor="middle">9</text><text x="97" y="724">purine deoxyribonucleoside diphosphate metabolic process</text><text x="539" y="724">0.0056</text>
<text x="55" y="747" text-anchor="middle">10</text><text x="97" y="747">purine deoxyribonucleoside diphosphate biosynthetic process</text><text x="539" y="747">0.0056</text>
</g>
</g>

<g id="bottom-connectors">
<path class="be" d="M795,745 Q720,790 660,850"/>
<path class="be" d="M808,745 Q793,790 806,845"/>
<path class="be" d="M830,740 Q960,788 1080,792"/>
<path class="be" d="M825,745 Q950,820 1080,852"/>
<path class="be" d="M1090.5,800 Q1084,825 1090.5,845"/>
<path class="be" d="M1080,862 Q1040,880 1030,915"/>
<path class="be" d="M1100,862 Q1140,895 1180,915"/>
<path class="be" d="M806.5,856 Q1020,900 1189.5,922"/>
<path class="be" d="M650,854 Q820,880 1022.5,919"/>
<path class="be" d="M645,865 Q615,885 603.5,924"/>
<path class="be" d="M806.5,853 Q700,880 603.5,924"/>
<path class="be" d="M795,865 Q750,885 708,924"/>
<path class="be" d="M795,865 Q772,885 769.5,920"/>
<path class="be" d="M806.5,853 Q806,882 832.5,921"/>
<path class="be" d="M815,865 Q880,920 951.5,994"/>
<path class="be" d="M603.5,924 Q480,935 409,995"/>
<path class="be" d="M603.5,924 Q520,945 471,998"/>
<path class="be" d="M603.5,924 Q575,950 555,1001.5"/>
<path class="be" d="M603.5,924 L677,998"/>
<path class="be" d="M603.5,926 L832.5,921"/>
<path class="be" d="M351,998.5 Q380,1032 451.5,1069.5"/>
<path class="be" d="M409,995 Q414,1030 440,1069"/>
<path class="be" d="M471,998 Q440,1032 451.5,1069.5"/>
<path class="be" d="M451.5,1069.5 Q452,1100 478,1142"/>
<path class="be" d="M478,1142 Q464,1175 477,1207"/>
<path class="be" d="M470,1207 Q453,1240 460,1277"/>
<path class="be" d="M594,1140 Q520,1190 472,1277"/>
<path class="be" d="M586,1070.5 Q530,1100 478,1142"/>
<path class="be" d="M580,1080 Q572,1110 580,1140"/>
<path class="be" d="M593,1080 L602,1140"/>
<path class="be" d="M590,1150 Q605,1220 652,1275"/>
<path class="be" d="M608,1150 Q628,1212 662,1275"/>
<path class="be" d="M708,924 Q650,950 616,997.5"/>
<path class="be" d="M708,924 Q620,958 555,1001.5"/>
<path class="be" d="M708,924 L677,998"/>
<path class="be" d="M708,924 Q760,948 794.5,996.5"/>
<path class="be" d="M708,924 Q840,952 951.5,994"/>
<path class="be" d="M769.5,920 Q744,950 739,998"/>
<path class="be" d="M832.5,921 Q800,945 794.5,996.5"/>
<path class="be" d="M832.5,921 Q824,952 856.5,996.5"/>
<path class="be" d="M832.5,921 Q1000,948 1193.5,993"/>
<path class="be" d="M951.5,994 Q1100,1030 1231,1069"/>
<path class="be" d="M1022.5,919 Q1018,952 1042.5,996.5"/>
<path class="be" d="M1189.5,922.5 Q1120,945 1103.5,994.5"/>
<path class="be" d="M1189.5,922.5 Q1090,938 1042.5,996.5"/>
<path class="be" d="M1181,925 Q1176,950 1181,975"/>
<path class="be" d="M1193,925 L1193,975"/>
<path class="be" d="M1206,925 L1206,975"/>
<path class="be" d="M1189.5,922.5 Q1170,1000 1161,1069.5"/>
<path class="be" d="M1189.5,922.5 Q1215,1000 1231,1069"/>
<path class="be" d="M1042.5,996.5 Q1024,1030 1024.5,1069.5"/>
<path class="be" d="M1103.5,994.5 Q1058,1020 1036,1069"/>
<path class="be" d="M1103.5,994.5 L1092.5,1069.5"/>
<path class="be" d="M1193.5,993 L1161,1069.5"/>
<path class="be" d="M1193.5,993 Q1130,1020 1092.5,1069.5"/>
<path class="be" d="M739,998 Q880,1020 1024.5,1069.5"/>
<path class="be" d="M794.5,996.5 Q950,1020 1092.5,1069.5"/>
<path class="be" d="M677,998 Q900,1028 1161,1069.5"/>
<path class="be" d="M951.5,994 Q898,1022 866,1069"/>
<path class="be" d="M856.5,996.5 Q843,1030 845,1069"/>
<path class="be" d="M677,998 Q780,1028 853.5,1069"/>
<path class="be" d="M555,1001.5 Q650,1030 712,1072.5"/>
<path class="be" d="M739,998 L712,1072.5"/>
<path class="be" d="M856.5,996.5 L782,1068"/>
<path class="be" d="M616,997.5 L782,1068"/>
<path class="be" d="M616,997.5 L586,1070.5"/>
<path class="be" d="M677,998 L586,1070.5"/>
<path class="be" d="M794.5,996.5 Q700,1030 645.5,1070.5"/>
<path class="be" d="M700,1090 L690,1140"/>
<path class="be" d="M718,1090 L705,1140"/>
<path class="be" d="M782,1068 Q745,1100 694,1140"/>
<path class="be" d="M645.5,1070.5 Q655,1105 694,1140"/>
<path class="be" d="M688,1140 Q683,1172 698,1206"/>
<path class="be" d="M702,1140 L714,1206"/>
<path class="be" d="M853.5,1069 Q780,1140 712,1206"/>
<path class="be" d="M853.5,1069 Q1000,1108 1155,1142"/>
<path class="be" d="M586,1070.5 Q750,1098 912.5,1139"/>
<path class="be" d="M594,1140 Q750,1168 904.5,1208.5"/>
<path class="be" d="M1024.5,1069.5 Q950,1098 912.5,1139"/>
<path class="be" d="M935,1130 Q990,1105 1045,1080"/>
<path class="be" d="M912.5,1139 Q894,1172 904.5,1208.5"/>
<path class="be" d="M904.5,1208.5 Q888,1236 910,1275"/>
<path class="be" d="M910,1275 Q914,1318 940,1341"/>
<path class="be" d="M1075,1080 Q1000,1200 958,1341"/>
<path class="be" d="M1155,1142 Q1040,1240 965,1341"/>
<path class="be" d="M1145,1080 Q1140,1110 1145,1142"/>
<path class="be" d="M1158,1080 L1156,1142"/>
<path class="be" d="M1231,1069 Q1200,1100 1168,1142"/>
<path class="be" d="M700,1206 Q680,1240 664.5,1275"/>
<path class="be" d="M714,1206 Q700,1242 676,1275"/>
<path class="be" d="M664.5,1275 Q649,1310 664.5,1340"/>
<path class="be" d="M664.5,1275 Q800,1322 952,1341"/>
<path class="be" d="M451.5,1069.5 Q700,1022 951.5,994"/>
</g>

<g id="bottom-nodes">
<g id="b_bp"><rect class="bn" x="773" y="724" width="74" height="26"/><text class="bt" x="810" y="739.2">Biological process</text></g>
<g id="b_breg"><rect class="bn" x="1062" y="777" width="57" height="33"/><text class="bt" x="1090.5" y="792">Biological<tspan x="1090.5" dy="7.3">regulation</tspan></text></g>
<g id="b_cp"><rect class="bn" x="613" y="841" width="74" height="26"/><text class="bt" x="650" y="856.2">Cellular process</text></g>
<g id="b_mp"><rect class="bn" x="778" y="837" width="57" height="32"/><text class="bt" x="806.5" y="851.5">Metabolic<tspan x="806.5" dy="7.3">process</tspan></text></g>
<g id="b_rbp"><rect class="bn" x="1062" y="834" width="57" height="41"/><text class="bt" x="1090.5" y="849.4">Regulation<tspan x="1090.5" dy="7.3">of biological</tspan><tspan x="1090.5" dy="7.3">process</tspan></text></g>
<g id="b_cmp"><rect class="bn" x="567" y="904" width="73" height="40"/><text class="bt" x="603.5" y="918.9">Cellular<tspan x="603.5" dy="7.3">metabolic</tspan><tspan x="603.5" dy="7.3">process</tspan></text></g>
<g id="b_osm"><rect class="bn" x="677" y="900" width="62" height="48"/><text class="bt" x="708" y="915.3">Organic<tspan x="708" dy="7.3">substance</tspan><tspan x="708" dy="7.3">metabolic</tspan><tspan x="708" dy="7.3">process</tspan></text></g>
<g id="b_rcp"><rect class="bn" x="987" y="902" width="71" height="34"/><text class="bt" x="1022.5" y="917.5">Regulation of<tspan x="1022.5" dy="7.3">cellular process</tspan></text></g>
<g id="b_rmp"><rect class="bn" x="1161" y="902" width="57" height="41"/><text class="bt" x="1189.5" y="917.4">Regulation<tspan x="1189.5" dy="7.3">of metabolic</tspan><tspan x="1189.5" dy="7.3">process</tspan></text></g>
<g id="b_cacm"><rect class="bn" x="323" y="971" width="56" height="55"/><text class="bt" x="351" y="986.1">Cellular<tspan x="351" dy="7.3">aromatic</tspan><tspan x="351" dy="7.3">compound</tspan><tspan x="351" dy="7.3">metabolic</tspan><tspan x="351" dy="7.3">process</tspan></text></g>
<g id="b_hmp"><rect class="bn" x="381" y="975" width="56" height="40"/><text class="bt" x="409" y="989.9">Heterocycle<tspan x="409" dy="7.3">metabolic</tspan><tspan x="409" dy="7.3">process</tspan></text></g>
<g id="b_occm"><rect class="bn" x="439" y="974" width="64" height="48"/><text class="bt" x="471" y="989.3">Organic cyclic<tspan x="471" dy="7.3">compound</tspan><tspan x="471" dy="7.3">metabolic</tspan><tspan x="471" dy="7.3">process</tspan></text></g>
<g id="b_cncm"><rect class="bn" x="523" y="974" width="64" height="55"/><text class="bt" x="555" y="989.1">Cellular<tspan x="555" dy="7.3">nitrogen</tspan><tspan x="555" dy="7.3">compound</tspan><tspan x="555" dy="7.3">metabolic</tspan><tspan x="555" dy="7.3">process</tspan></text></g>
<g id="b_osb"><rect class="bn" x="589" y="974" width="54" height="47"/><text class="bt" x="616" y="988.8">Organic<tspan x="616" dy="7.3">substance</tspan><tspan x="616" dy="7.3">biosynthetic</tspan><tspan x="616" dy="7.3">process</tspan></text></g>
<g id="b_mmp"><rect class="bn" x="645" y="978" width="64" height="40"/><text class="bt" x="677" y="992.9">Macromolecule<tspan x="677" dy="7.3">metabolic</tspan><tspan x="677" dy="7.3">process</tspan></text></g>
<g id="b_cbp"><rect class="bn" x="712" y="978" width="54" height="40"/><text class="bt" x="739" y="992.9">Cellular<tspan x="739" dy="7.3">biosynthetic</tspan><tspan x="739" dy="7.3">process</tspan></text></g>
<g id="b_amp"><rect class="bn" x="768" y="976" width="53" height="41"/><text class="bt" x="794.5" y="991.4">Amide<tspan x="794.5" dy="7.3">metabolic</tspan><tspan x="794.5" dy="7.3">process</tspan></text></g>
<g id="b_oncm"><rect class="bn" x="824" y="973" width="65" height="47"/><text class="bt" x="856.5" y="987.8">Organonitrogen<tspan x="856.5" dy="7.3">compound</tspan><tspan x="856.5" dy="7.3">metabolic</tspan><tspan x="856.5" dy="7.3">process</tspan></text></g>
<g id="b_pmp"><rect class="bn" x="923" y="974" width="57" height="40"/><text class="bt" x="951.5" y="988.9">Primary<tspan x="951.5" dy="7.3">metabolic</tspan><tspan x="951.5" dy="7.3">process</tspan></text></g>
<g id="b_rbsp"><rect class="bn" x="1014" y="973" width="57" height="47"/><text class="bt" x="1042.5" y="987.8">Regulation<tspan x="1042.5" dy="7.3">of</tspan><tspan x="1042.5" dy="7.3">biosynthetic</tspan><tspan x="1042.5" dy="7.3">process</tspan></text></g>
<g id="b_rcmp"><rect class="bn" x="1075" y="971" width="57" height="47"/><text class="bt" x="1103.5" y="985.8">Regulation<tspan x="1103.5" dy="7.3">of cellular</tspan><tspan x="1103.5" dy="7.3">metabolic</tspan><tspan x="1103.5" dy="7.3">process</tspan></text></g>
<g id="b_rncm"><rect class="bn" x="1165" y="966" width="57" height="54"/><text class="bt" x="1193.5" y="980.6">Regulation<tspan x="1193.5" dy="7.3">of nitrogen</tspan><tspan x="1193.5" dy="7.3">compound</tspan><tspan x="1193.5" dy="7.3">metabolic</tspan><tspan x="1193.5" dy="7.3">process</tspan></text></g>
<g id="b_nbcm"><rect class="bn" x="408" y="1049" width="87" height="41"/><text class="bt" x="451.5" y="1064.4">Nucleobase<tspan x="451.5" dy="7.3">containing compound</tspan><tspan x="451.5" dy="7.3">metabolic process</tspan></text></g>
<g id="b_cncb"><rect class="bn" x="681" y="1045" width="62" height="55"/><text class="bt" x="712" y="1060.1">Cellular<tspan x="712" dy="7.3">nitrogen</tspan><tspan x="712" dy="7.3">compound</tspan><tspan x="712" dy="7.3">biosynthetic</tspan><tspan x="712" dy="7.3">process</tspan></text></g>
<g id="b_oncb"><rect class="bn" x="747" y="1044" width="70" height="48"/><text class="bt" x="782" y="1059.3">Organonitrogen<tspan x="782" dy="7.3">compound</tspan><tspan x="782" dy="7.3">biosynthetic</tspan><tspan x="782" dy="7.3">process</tspan></text></g>
<g id="b_rcbp"><rect class="bn" x="989" y="1046" width="71" height="47"/><text class="bt" x="1024.5" y="1060.8">Regulation of<tspan x="1024.5" dy="7.3">cellular</tspan><tspan x="1024.5" dy="7.3">biosynthetic</tspan><tspan x="1024.5" dy="7.3">process</tspan></text></g>
<g id="b_ramp"><rect class="bn" x="1062" y="1046" width="61" height="47"/><text class="bt" x="1092.5" y="1060.8">Regulation of<tspan x="1092.5" dy="7.3">amide</tspan><tspan x="1092.5" dy="7.3">metabolic</tspan><tspan x="1092.5" dy="7.3">process</tspan></text></g>
<g id="b_rmmp"><rect class="bn" x="1128" y="1046" width="66" height="47"/><text class="bt" x="1161" y="1060.8">Regulation of<tspan x="1161" dy="7.3">macromolecule</tspan><tspan x="1161" dy="7.3">metabolic</tspan><tspan x="1161" dy="7.3">process</tspan></text></g>
<g id="b_rpmp"><rect class="bn" x="1198" y="1045" width="66" height="48"/><text class="bt" x="1231" y="1060.3">Regulation of<tspan x="1231" dy="7.3">primary</tspan><tspan x="1231" dy="7.3">metabolic</tspan><tspan x="1231" dy="7.3">process</tspan></text></g>
<g id="b_nam"><rect class="bn" x="443" y="1122" width="70" height="40"/><text class="bt" x="478" y="1136.9">Nucleic acid<tspan x="478" dy="7.3">metabolic</tspan><tspan x="478" dy="7.3">process</tspan></text></g>
<g id="b_abp"><rect class="bn" x="660" y="1120" width="68" height="40"/><text class="bt" x="694" y="1134.9">Amide<tspan x="694" dy="7.3">biosynthetic</tspan><tspan x="694" dy="7.3">process</tspan></text></g>
<g id="b_rmbp"><rect class="bn" x="877" y="1115" width="71" height="48"/><text class="bt" x="912.5" y="1130.3">Regulation of<tspan x="912.5" dy="7.3">macromolecule</tspan><tspan x="912.5" dy="7.3">biosynthetic</tspan><tspan x="912.5" dy="7.3">process</tspan></text></g>
<g id="b_rprot"><rect class="bn" x="1122" y="1118" width="66" height="48"/><text class="bt" x="1155" y="1133.3">Regulation of<tspan x="1155" dy="7.3">protein</tspan><tspan x="1155" dy="7.3">metabolic</tspan><tspan x="1155" dy="7.3">process</tspan></text></g>
<g id="b_rna"><rect class="bn" x="442" y="1191" width="70" height="32"/><text class="bt" x="477" y="1205.5">RNA metabolic<tspan x="477" dy="7.3">process</tspan></text></g>
<g id="b_pbp"><rect class="bn" x="677" y="1186" width="70" height="40"/><text class="bt" x="712" y="1200.9">Peptide<tspan x="712" dy="7.3">biosynthetic</tspan><tspan x="712" dy="7.3">process</tspan></text></g>
<g id="b_rge"><rect class="bn" x="871" y="1188" width="67" height="41"/><text class="bt" x="904.5" y="1203.4">Regulation of<tspan x="904.5" dy="7.3">gene</tspan><tspan x="904.5" dy="7.3">expression</tspan></text></g>
<g id="b_ptr"><rect class="bn" x="874" y="1251" width="72" height="48"/><text class="bt" x="910" y="1266.3">Post-<tspan x="910" dy="7.3">transcriptional</tspan><tspan x="910" dy="7.3">regulation of gene</tspan><tspan x="910" dy="7.3">expression</tspan></text></g>
<g id="b_7"><rect class="bb" x="742" y="902" width="55" height="36" rx="7"/><text class="bbt" x="769.5" y="926.3">7</text></g>
<g id="b_6"><rect class="bb" x="805" y="899" width="55" height="44" rx="7"/><text class="bbt" x="832.5" y="927.3">6</text></g>
<g id="b_8"><rect class="bb" x="558" y="1053" width="56" height="35" rx="7"/><text class="bbt" x="586" y="1076.8">8</text></g>
<g id="b_5"><rect class="bb" x="618" y="1053" width="55" height="35" rx="7"/><text class="bbt" x="645.5" y="1076.8">5</text></g>
<g id="b_10"><rect class="bb" x="825" y="1051" width="57" height="36" rx="7"/><text class="bbt" x="853.5" y="1075.3">10</text></g>
<g id="b_9"><rect class="bb" x="566" y="1122" width="56" height="36" rx="7"/><text class="bbt" x="594" y="1146.3">9</text></g>
<g id="b_2"><rect class="bb" x="433" y="1259" width="55" height="36" rx="7"/><text class="bbt" x="460.5" y="1283.3">2</text></g>
<g id="b_3"><rect class="bb" x="637" y="1257" width="55" height="36" rx="7"/><text class="bbt" x="664.5" y="1281.3">3</text></g>
<g id="b_1"><rect class="bb" x="637" y="1322" width="55" height="36" rx="7"/><text class="bbt" x="664.5" y="1346.3">1</text></g>
<g id="b_4"><rect class="bb" x="924" y="1323" width="56" height="36" rx="7"/><text class="bbt" x="952" y="1347.3">4</text></g>
</g>

<g id="table2">
<rect x="15" y="1331" width="503" height="244" fill="#fff"/>
<rect x="15" y="1331" width="503" height="24.4" fill="#d9d9d9"/>
<rect x="15" y="1379.8" width="503" height="24.4" fill="#d9d9d9"/>
<rect x="15" y="1428.6" width="503" height="24.4" fill="#d9d9d9"/>
<rect x="15" y="1477.4" width="503" height="24.4" fill="#d9d9d9"/>
<rect x="15" y="1526.2" width="503" height="24.4" fill="#d9d9d9"/>
<rect x="15" y="1307" width="503" height="24" fill="#000"/>
<g class="sep2">
<line x1="15" y1="1331" x2="518" y2="1331"/><line x1="15" y1="1355.4" x2="518" y2="1355.4"/><line x1="15" y1="1379.8" x2="518" y2="1379.8"/><line x1="15" y1="1404.2" x2="518" y2="1404.2"/><line x1="15" y1="1428.6" x2="518" y2="1428.6"/><line x1="15" y1="1453" x2="518" y2="1453"/><line x1="15" y1="1477.4" x2="518" y2="1477.4"/><line x1="15" y1="1501.8" x2="518" y2="1501.8"/><line x1="15" y1="1526.2" x2="518" y2="1526.2"/><line x1="15" y1="1550.6" x2="518" y2="1550.6"/>
<line x1="15" y1="1307" x2="518" y2="1307"/><line x1="15" y1="1307" x2="15" y2="1574"/><line x1="518" y1="1307" x2="518" y2="1574"/>
</g>
<text class="th" x="117" y="1326" font-size="15.5">Enriched Categories</text>
<text class="th" x="441" y="1326" font-size="15.5">P-value</text>
<g class="tx" font-size="15.5">
<text x="65" y="1351" text-anchor="middle">1</text><text x="117" y="1351">cytoplasmic translation</text><text x="441" y="1348">&lt;1*10<tspan dy="-5.5" font-size="9.7">-15</tspan></text>
<text x="65" y="1375.4" text-anchor="middle">2</text><text x="117" y="1375.4">RNA processing</text><text x="441" y="1372.4">&lt;1*10<tspan dy="-5.5" font-size="9.7">-15</tspan></text>
<text x="65" y="1399.8" text-anchor="middle">3</text><text x="117" y="1399.8">translation</text><text x="441" y="1396.8">&lt;1*10<tspan dy="-5.5" font-size="9.7">-15</tspan></text>
<text x="65" y="1424.2" text-anchor="middle">4</text><text x="117" y="1424.2">regulation of translation</text><text x="441" y="1421.2">&lt;1*10<tspan dy="-5.5" font-size="9.7">-15</tspan></text>
<text x="65" y="1448.6" text-anchor="middle">5</text><text x="117" y="1448.6">peptide metabolic process</text><text x="441" y="1445.6">&lt;1*10<tspan dy="-5.5" font-size="9.7">-15</tspan></text>
<text x="65" y="1473" text-anchor="middle">6</text><text x="117" y="1473">nitrogen compound metabolic process</text><text x="441" y="1470">&lt;1*10<tspan dy="-5.5" font-size="9.7">-15</tspan></text>
<text x="65" y="1497.4" text-anchor="middle">7</text><text x="117" y="1497.4">biosynthetic process</text><text x="441" y="1494.4">&lt;1*10<tspan dy="-5.5" font-size="9.7">-15</tspan></text>
<text x="65" y="1521.8" text-anchor="middle">8</text><text x="117" y="1521.8">macromolecule biosynthetic process</text><text x="441" y="1518.8">&lt;1*10<tspan dy="-5.5" font-size="9.7">-15</tspan></text>
<text x="65" y="1546.2" text-anchor="middle">9</text><text x="117" y="1546.2">gene expression</text><text x="441" y="1543.2">&lt;1*10<tspan dy="-5.5" font-size="9.7">-15</tspan></text>
<text x="65" y="1570.6" text-anchor="middle">10</text><text x="117" y="1570.6">protein metabolic process</text><text x="441" y="1567.6">&lt;1*10<tspan dy="-5.5" font-size="9.7">-15</tspan></text>
</g>
</g>
</svg>
